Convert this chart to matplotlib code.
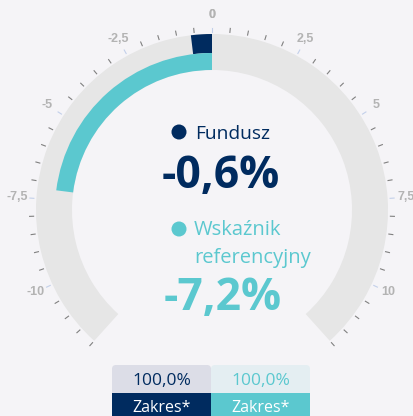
import matplotlib
matplotlib.use("Agg")
import matplotlib.pyplot as plt
import numpy as np
from matplotlib.patches import FancyBboxPatch, Rectangle, Circle

# gauge data
fund_value = -0.6
benchmark_value = -7.2
scale_min, scale_max = -12, 12
major_ticks = np.arange(-10, 10.1, 2.5)
minor_ticks = np.arange(-12, 12.01, 0.5)
range_labels = ["100,0%", "100,0%"]
range_caption = "Zakres*"

# colours
BG = "#f5f4f7"
NAVY = "#002b5f"
CYAN = "#5bc8cf"
TRACK = "#e6e6e6"

W, H = 414, 416
DEG_PER_UNIT = 138 / 12   # 12 units = 138 degrees from the top


def to_theta(v):
    return np.deg2rad(v * DEG_PER_UNIT)


def fmt(v):
    return f"{v:g}".replace(".", ",")


fig = plt.figure(figsize=(W / 100, H / 100), dpi=100)
fig.patch.set_facecolor(BG)

# polar axes centred at (212, 210) px with radius 200 px
cx, cy, rad = 212, 210, 200
ax = fig.add_axes([(cx - rad) / W, (H - cy - rad) / H, 2 * rad / W, 2 * rad / H],
                  projection="polar")
ax.set_theta_zero_location("N")
ax.set_theta_direction(-1)
ax.set_ylim(0, rad)
ax.set_facecolor("none")
ax.axis("off")

# background track
ax.bar(to_theta(scale_min), 36, width=to_theta(scale_max) - to_theta(scale_min),
       bottom=140, align="edge", color=TRACK, linewidth=0)
# fund (outer) and benchmark (inner) bands
ax.bar(0, 19, width=to_theta(fund_value), bottom=157, align="edge",
       color=NAVY, linewidth=0)
ax.bar(0, 17, width=to_theta(benchmark_value), bottom=140, align="edge",
       color=CYAN, linewidth=0)

for v in minor_ticks:
    is_major = abs(v / 2.5 - round(v / 2.5)) < 1e-9
    ax.plot([to_theta(v)] * 2, [178.5, 182.5],
            color="#c3d0ea" if is_major else "#808080", lw=0.8)
for v in list(major_ticks) + [0]:
    ax.text(to_theta(v), 195, fmt(v), ha="center", va="center",
            fontsize=9, fontweight="bold", color="#b3b3b3",
            family="Liberation Sans")

# overlay in pixel coordinates for the centre texts and range boxes
ov = fig.add_axes([0, 0, 1, 1])
ov.set_xlim(0, W)
ov.set_ylim(H, 0)
ov.axis("off")
ov.set_facecolor("none")

font = "Open Sans"
ov.add_patch(Circle((179, 132), 7.5, color=NAVY, lw=0))
ov.text(195, 139, "Fundusz", fontsize=13.8, color=NAVY, family=font,
        va="baseline")
ov.text(221, 188, f"{fund_value:.1f}%".replace(".", ","), fontsize=32,
        fontweight="bold", color=NAVY, family=font, ha="center", va="baseline")

ov.add_patch(Circle((179, 229), 7.5, color=CYAN, lw=0))
ov.text(194, 235, "Wskaźnik", fontsize=14.5, color=CYAN, family=font,
        va="baseline")
ov.text(194, 263, "referencyjny", fontsize=14.5, color=CYAN, family=font,
        va="baseline")
ov.text(223, 310, f"{benchmark_value:.1f}%".replace(".", ","), fontsize=32,
        fontweight="bold", color=CYAN, family=font, ha="center", va="baseline")

# range boxes
boxes = [(112, "#dcdde7", NAVY, NAVY), (211, "#e4eef2", CYAN, CYAN)]
for (x0, top_col, txt_col, bot_col), lab in zip(boxes, range_labels):
    ov.add_patch(FancyBboxPatch((x0, 365), 99, 36,
                                boxstyle="round,pad=0,rounding_size=4",
                                fc=top_col, ec="none"))
    ov.add_patch(Rectangle((x0, 393), 99, 30, fc=bot_col, ec="none"))
    ov.text(x0 + 49.5, 385, lab, fontsize=12.5, color=txt_col, family=font,
            ha="center", va="baseline")
    ov.text(x0 + 49.5, 412, range_caption, fontsize=11.5, color="white",
            family=font, ha="center", va="baseline")

fig.savefig("out.png", dpi=100, facecolor=BG)
